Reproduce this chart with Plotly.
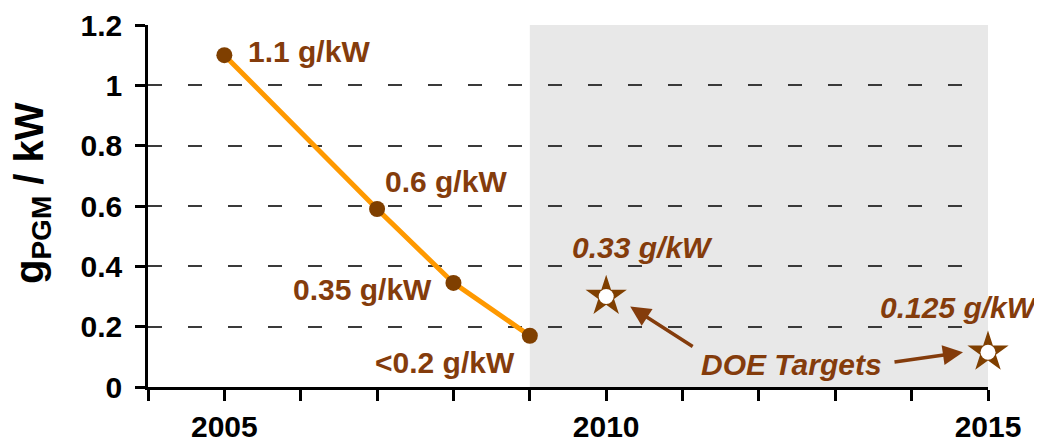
import plotly.graph_objects as go

# ---- data ----
years = [2005, 2007, 2008, 2009]
loading = [1.1, 0.59, 0.345, 0.17]
point_labels = ["1.1 g/kW", "0.6 g/kW", "0.35 g/kW", "<0.2 g/kW"]

target_years = [2010, 2015]
target_loading = [0.30, 0.115]
target_labels = ["0.33 g/kW", "0.125 g/kW"]

x_tick_vals = list(range(2004, 2016))
x_tick_text = ["" if y % 5 else str(y) for y in x_tick_vals]
y_tick_vals = [0, 0.2, 0.4, 0.6, 0.8, 1.0, 1.2]
y_tick_text = ["0", "0.2", "0.4", "0.6", "0.8", "1", "1.2"]

# ---- styles ----
BROWN = "#843C0C"
MARK = "#7F3F00"
ORANGE = "#FF9900"
FONT = "Liberation Sans, Arial, sans-serif"

fig = go.Figure()

fig.add_shape(type="rect", xref="x", yref="y", x0=2009, x1=2015, y0=0, y1=1.2,
              fillcolor="#E8E8E8", line=dict(width=0), layer="below")

fig.add_trace(go.Scatter(
    x=years, y=loading, mode="lines+markers",
    line=dict(color=ORANGE, width=5),
    marker=dict(color=MARK, size=16),
    cliponaxis=False, showlegend=False))

fig.add_trace(go.Scatter(
    x=target_years, y=target_loading, mode="markers",
    marker=dict(symbol="star", color=MARK, size=31, line=dict(width=0)),
    cliponaxis=False, showlegend=False))
fig.add_trace(go.Scatter(
    x=target_years, y=target_loading, mode="markers",
    marker=dict(symbol="circle", color="white", size=15, line=dict(width=0)),
    cliponaxis=False, showlegend=False))

label_font = dict(family=FONT, size=30, color=BROWN)

point_shifts = [(85, 4), (69, 28), (-91, -7), (-85, -27)]
for x, y, t, (dx, dy) in zip(years, loading, point_labels, point_shifts):
    fig.add_annotation(x=x, y=y, text=f"<b>{t}</b>", showarrow=False,
                       xshift=dx, yshift=dy, font=label_font)

target_shifts = [(36, 49), (-29, 45)]
for x, y, t, (dx, dy) in zip(target_years, target_loading, target_labels, target_shifts):
    fig.add_annotation(x=x, y=y, text=f"<b><i>{t}</i></b>", showarrow=False,
                       xshift=dx, yshift=dy, font=label_font)

fig.add_annotation(x=2012.43, y=0.074, text="<b><i>DOE Targets</i></b>",
                   showarrow=False, font=label_font)

arrow_specs = [(24, -10, 64, 41), (-25, 0, -70, 10)]
for x, y, (dx, dy, axp, ayp) in zip(target_years, target_loading, arrow_specs):
    fig.add_annotation(x=x, y=y, text="", showarrow=True, xshift=dx, yshift=dy,
                       ax=axp, ay=ayp, arrowhead=2, arrowsize=1.15, arrowwidth=3.5,
                       arrowcolor=BROWN, standoff=0, startstandoff=0)

# y-axis title (rotated)
fig.add_annotation(xref="paper", yref="paper", x=0, y=0.5, xanchor="center",
                   yanchor="middle", xshift=-116, yshift=13, textangle=-90,
                   text="<b>g<sub>PGM</sub> / kW</b>", showarrow=False,
                   borderpad=0,
                   font=dict(family=FONT, size=40, color="black"))

# page body has an 8px default margin: compensate so the plot area sits
# at 148..988 x 25..387 in the 1042x445 window
fig.update_layout(
    width=1034, height=437,
    margin=dict(l=140, r=54, t=17, b=58, autoexpand=False),
    paper_bgcolor="white", plot_bgcolor="white",
    font=dict(family=FONT, color="black"),
    xaxis=dict(range=[2004, 2015], tickvals=x_tick_vals, ticktext=x_tick_text,
               showgrid=False, zeroline=False, showline=True, linecolor="black",
               linewidth=2.5, ticks="outside", ticklen=11, tickwidth=2.5,
               tickcolor="black", automargin=False,
               tickfont=dict(family=FONT, size=30, color="black", weight="bold")),
    yaxis=dict(range=[0, 1.2], tickvals=y_tick_vals, ticktext=y_tick_text,
               showgrid=True, gridcolor="#3a3a3a", gridwidth=1.5,
               griddash="14px,26px", zeroline=False, showline=True,
               linecolor="black", linewidth=2.5, ticks="outside", ticklen=10,
               tickwidth=2.5, tickcolor="black", automargin=False,
               ticklabelstandoff=7,
               tickfont=dict(family=FONT, size=30, color="black", weight="bold")),
)

fig.write_html("out.html")
